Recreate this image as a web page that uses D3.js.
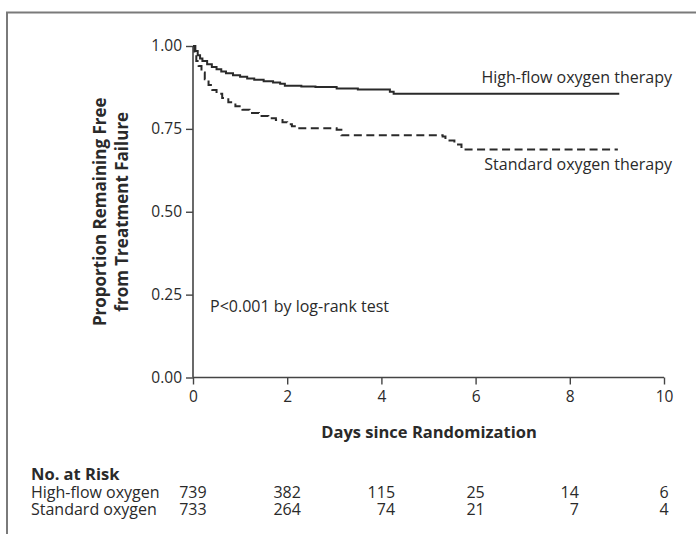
<!DOCTYPE html>
<html><head><meta charset="utf-8">
<script src="https://cdn.jsdelivr.net/npm/d3@7"></script>
<style>body{margin:0;background:#fff;} text{font-family:"Open Sans",sans-serif;fill:#2a2a2a;}</style>
</head><body><svg id="c" width="696" height="534"></svg>
<script>
// ---- data ----
const hfDays = [0,0.05,0.1,0.15,0.2,0.3,0.4,0.5,0.6,0.7,0.85,1.0,1.15,1.3,1.5,1.7,1.85,1.95,2.3,2.6,3.05,3.5,4.18,4.26,9.05];
const hfSurv = [1.0,0.985,0.972,0.962,0.955,0.945,0.937,0.930,0.923,0.918,0.912,0.907,0.902,0.898,0.894,0.890,0.886,0.880,0.878,0.876,0.872,0.869,0.862,0.856,0.856];
const stDays = [0,0.03,0.07,0.12,0.18,0.25,0.33,0.41,0.5,0.62,0.75,0.9,1.05,1.2,1.4,1.6,1.76,1.9,2.0,2.1,2.2,3.05,3.15,5.3,5.36,5.55,5.7,9.02];
const stSurv = [1.0,0.975,0.955,0.94,0.92,0.9,0.882,0.867,0.856,0.843,0.83,0.818,0.808,0.798,0.789,0.782,0.777,0.77,0.764,0.758,0.752,0.747,0.731,0.727,0.715,0.703,0.688,0.688];
const xTicks = [0,2,4,6,8,10];
const yTicks = [0,0.25,0.5,0.75,1.0];
const riskGroups = ["High-flow oxygen","Standard oxygen"];
const riskHF = [739,382,115,25,14,6];
const riskST = [733,264,74,21,7,4];
const seriesLabels = ["High-flow oxygen therapy","Standard oxygen therapy"];

const svg = d3.select("#c");
const FS = 16;
// frame
svg.append("path").attr("d","M7,534 V12.5 H696").attr("fill","none").attr("stroke","#7a7a7a").attr("stroke-width",2);

const x = d3.scaleLinear().domain([0,10]).range([193,664]);
const y = d3.scaleLinear().domain([0,1]).range([377.5,46]);

const xAxis = svg.append("g").attr("transform","translate(0,377.5)")
  .call(d3.axisBottom(x).tickValues(xTicks).tickSize(7).tickPadding(6).tickFormat(d3.format("d")));
const yAxis = svg.append("g").attr("transform","translate(193,0)")
  .call(d3.axisLeft(y).tickValues(yTicks).tickSize(7).tickPadding(4).tickFormat(d3.format(".2f")));
[xAxis,yAxis].forEach(g=>{
  g.attr("font-size",15.5).attr("font-family","'Open Sans',sans-serif");
  g.select(".domain").attr("stroke","#444").attr("stroke-width",1.6);
  g.selectAll(".tick line").attr("stroke","#444").attr("stroke-width",1.4);
  g.selectAll(".tick text").attr("fill","#333");
});
xAxis.select(".domain").attr("d",`M${x(0)},0H${x(10)}`);
yAxis.select(".domain").attr("d",`M0,${y(0)}V${y(1)}`);

const line = d3.line().x(d=>x(d[0])).y(d=>y(d[1])).curve(d3.curveStepAfter);
svg.append("path").datum(hfDays.map((d,i)=>[d,hfSurv[i]])).attr("d",line)
  .attr("fill","none").attr("stroke","#2a2a2a").attr("stroke-width",2);
svg.append("path").datum(stDays.map((d,i)=>[d,stSurv[i]])).attr("d",line)
  .attr("fill","none").attr("stroke","#2a2a2a").attr("stroke-width",2).attr("stroke-dasharray","8,4.5");

svg.append("text").attr("x",672).attr("y",83).attr("text-anchor","end").attr("font-size",FS).text(seriesLabels[0]);
svg.append("text").attr("x",672).attr("y",170).attr("text-anchor","end").attr("font-size",FS).text(seriesLabels[1]);
svg.append("text").attr("x",210).attr("y",312).attr("font-size",FS).text("P<0.001 by log-rank test");

// axis titles
const yl = svg.append("text").attr("transform",`translate(106,${(y(0)+y(1))/2}) rotate(-90)`)
  .attr("text-anchor","middle").attr("font-size",17).attr("font-weight","bold");
yl.append("tspan").attr("x",0).attr("dy",0).text("Proportion Remaining Free");
yl.append("tspan").attr("x",0).attr("dy",22).text("from Treatment Failure");
svg.append("text").attr("x",429).attr("y",438).attr("text-anchor","middle")
  .attr("font-size",16.5).attr("font-weight","bold").text("Days since Randomization");

// risk table
svg.append("text").attr("x",31).attr("y",480).attr("font-size",16.5).attr("font-weight","bold").text("No. at Risk");
const rows = [riskHF, riskST];
const rowY = [497.5, 515];
riskGroups.forEach((g,i)=>{
  svg.append("text").attr("x",31).attr("y",rowY[i]).attr("font-size",FS).text(g);
});
xTicks.forEach((t,j)=>{
  const maxLen = Math.max(String(riskHF[j]).length, String(riskST[j]).length);
  const half = maxLen*9.1/2;
  rows.forEach((r,i)=>{
    svg.append("text").attr("x",x(t)+half).attr("y",rowY[i]).attr("text-anchor","end")
      .attr("font-size",FS).text(r[j]);
  });
});
</script></body></html>
